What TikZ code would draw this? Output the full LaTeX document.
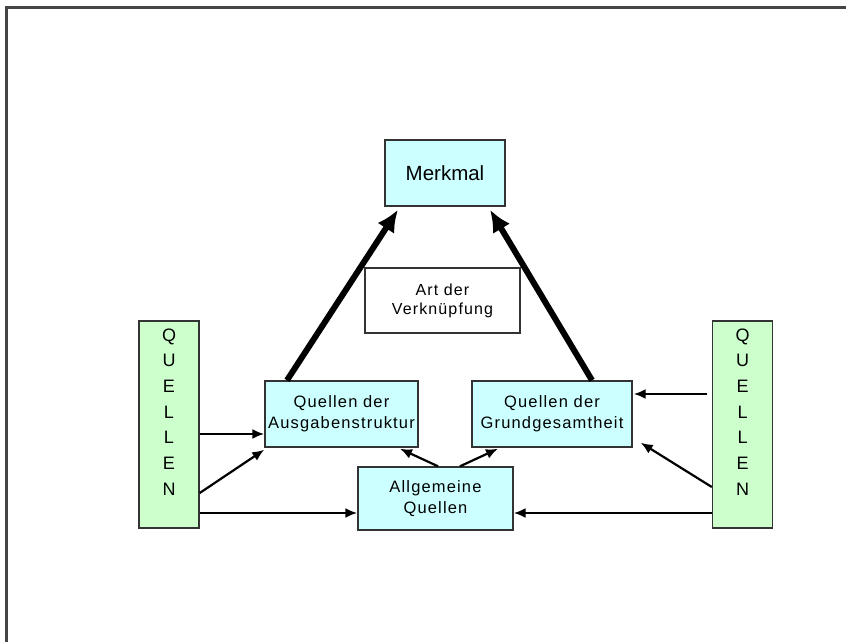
\documentclass[tikz,border=0pt]{standalone}
\usepackage{fontspec}
\setmainfont{Liberation Sans}
\newfontfamily\widesans[LetterSpace=7]{Liberation Sans}
\usetikzlibrary{arrows.meta,calc}
\definecolor{boxcyan}{HTML}{CCFFFF}
\definecolor{boxgreen}{HTML}{CCFFCC}
\definecolor{edgegray}{HTML}{333333}
\definecolor{framegray}{HTML}{454545}
\tikzset{
  cyanbox/.style={draw=edgegray, line width=1.4pt, fill=boxcyan, align=center,
    inner sep=0pt, font=\widesans\fontsize{16.5}{21}\selectfont},
  whitebox/.style={draw=edgegray, line width=1.4pt, fill=white, align=center,
    inner sep=0pt, font=\widesans\fontsize{16}{19}\selectfont},
  greenbox/.style={draw=edgegray, line width=1.4pt, fill=boxgreen, inner sep=0pt,
    minimum width=60pt, minimum height=207pt},
  vertlabel/.style={align=center, inner sep=0pt, font=\fontsize{18}{25.7}\selectfont},
  feed/.style={line width=2.2pt, -{Latex[length=12pt,width=10pt]}},
  heavy/.style={line width=6pt, -{Latex[length=22pt,width=20pt]}},
}
\begin{document}
\begin{tikzpicture}[x=1pt,y=-1pt]
  \useasboundingbox (0,0) rectangle (846,642);
  % outer frame (open towards right and bottom)
  \draw[framegray, line width=2.5pt] (6.5,642) -- (6.5,7.5) -- (846,7.5);

  % main boxes
  \node[cyanbox, minimum width=120pt, minimum height=66pt,
        font=\fontsize{20.5}{22}\selectfont] (m) at (445,173) {Merkmal};
  \node[whitebox, minimum width=155pt, minimum height=65pt] (art) at (442.5,300.5)
        {Art der\\Verknüpfung};
  \node[cyanbox, minimum width=153pt, minimum height=66pt] (qa) at (341.5,414)
        {Quellen der\\Ausgabenstruktur};
  \node[cyanbox, minimum width=160pt, minimum height=66pt] (qgr) at (552,414)
        {Quellen der\\Grundgesamtheit};
  \node[cyanbox, minimum width=155pt, minimum height=63pt] (allg) at (435.5,498.5)
        {Allgemeine\\Quellen};

  % side columns
  \node[greenbox] (ql) at (169,424.5) {};
  \node[vertlabel] (qlt) at (169,412) {Q\\U\\E\\L\\L\\E\\N};
  \node[greenbox] (qr) at (742.5,424.5) {};
  \node[vertlabel] (qrt) at (742.5,412) {Q\\U\\E\\L\\L\\E\\N};

  % heavy arrows towards Merkmal
  \draw[heavy] ([xshift=-54.5pt]qa.north) -- ([xshift=-47pt,yshift=-3pt]m.south);
  \draw[heavy] ([xshift=40pt]qgr.north) -- ([xshift=45pt,yshift=-3pt]m.south);

  % left column feeds
  \draw[feed] ([yshift=-20pt]qa.west -| ql.east) -- ([yshift=-20pt]qa.west);
  \draw[feed] ([yshift=-68.5pt]ql.east) -- ([yshift=-2pt]qa.south west);
  \draw[feed] ([yshift=-14.5pt]allg.west -| ql.east) -- ([yshift=-14.5pt]allg.west);

  % right column feeds
  \draw[feed] ([xshift=-5pt,yshift=20pt]qgr.east -| qr.west) -- ([xshift=1pt,yshift=20pt]qgr.east);
  \draw[feed] ([yshift=-62.5pt]qr.west) -- ([xshift=8pt,yshift=5pt]qgr.south east);
  \draw[feed] ([yshift=-14.5pt]allg.east -| qr.west) -- ([yshift=-14.5pt]allg.east);

  % general sources to the two source boxes
  \draw[feed] ([xshift=2.5pt]allg.north) -- ([xshift=58.5pt,yshift=-1pt]qa.south);
  \draw[feed] ([xshift=24.5pt]allg.north) -- ([xshift=-54pt,yshift=-1pt]qgr.south);
\end{tikzpicture}
\end{document}
